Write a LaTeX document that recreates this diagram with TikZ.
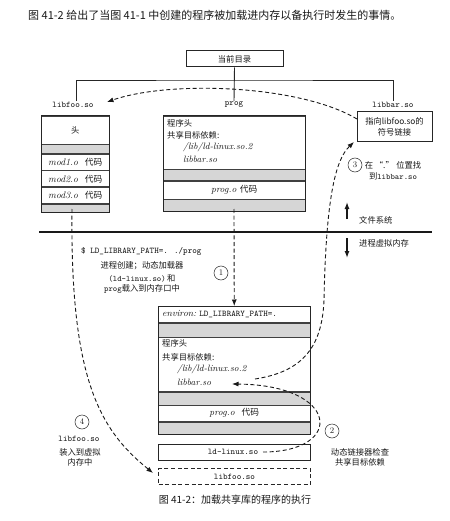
\documentclass[tikz,border=0pt]{standalone}
\usepackage{fontspec}
\newfontfamily\cjk{Noto Sans CJK SC}
\usetikzlibrary{arrows.meta}
\begin{document}
\begin{tikzpicture}[x=1pt,y=-1pt,
  every node/.style={inner sep=1pt, text=black!90},
  fs/.style={font=\fontsize{8.5}{10}\selectfont},
  cn/.style={font=\cjk\fontsize{8.3}{10}\selectfont},
  tt/.style={font=\ttfamily\fontsize{8.7}{10}\selectfont},
  itx/.style={font=\itshape\fontsize{9.2}{10}\selectfont},
  rowbox/.style 2 args={draw=black!75, line width=.5pt, inner sep=0, anchor=north west,
    minimum width=#1, minimum height=#2, font=\fontsize{8.7}{10}\selectfont},
  grey/.style={fill=black!16},
  outer/.style={draw=black!85, line width=1pt},
  dashar/.style={draw=black!90, line width=.9pt, dash pattern=on 4pt off 2.6pt,
    -{Latex[length=6.5pt,width=5pt]}},
  num/.style={circle, draw=black!85, line width=.5pt, minimum size=14pt, inner sep=0,
    font=\fontsize{8.5}{10}\selectfont},
  tree/.style={draw=black!85, line width=.9pt},
  fsarrow/.style={draw=black!90, line width=1.3pt, -{Latex[length=7pt,width=5pt]}}
]
\useasboundingbox (0,0) rectangle (449,521);
\fill[white] (0,0) rectangle (449,521);

% top caption
\node[anchor=west, font=\cjk\fontsize{11}{13}\selectfont] (topcap) at (27,15)
  {图 41-2 给出了当图 41-1 中创建的程序被加载进内存以备执行时发生的事情。};

% directory tree
\node[draw=black!85, line width=1pt, minimum width=97pt, minimum height=16pt, inner sep=0,
  cn] (cur) at (234.5,59) {当前目录};
\node[tt] (foolab) at (73,105) {libfoo.so};
\node[tt] (proglab) at (234,105) {prog};
\node[tt] (barlab) at (393,105) {libbar.so};
\coordinate (hb) at (234,80);
\draw[tree] (cur.south) -- (proglab.north);
\draw[tree] (foolab.north -| 76,0) |- (hb) -| (barlab.north);

% libfoo.so box
\node[rowbox={68}{28}, cn] (fh) at (41,116) {头};
\node[rowbox={68}{9}, grey] (fg1) at (fh.south west) {};
\node[rowbox={68}{16}, font=\fontsize{9.6}{10}\selectfont] (fm1) at (fg1.south west) {\itshape mod1.o\ \ {\cjk\fontsize{8.7}{10}\selectfont 代码}};
\node[rowbox={68}{16}, font=\fontsize{9.6}{10}\selectfont] (fm2) at (fm1.south west) {\itshape mod2.o\ \ {\cjk\fontsize{8.7}{10}\selectfont 代码}};
\node[rowbox={68}{16}, font=\fontsize{9.6}{10}\selectfont] (fm3) at (fm2.south west) {\itshape mod3.o\ \ {\cjk\fontsize{8.7}{10}\selectfont 代码}};
\node[rowbox={68}{8}, grey] (fg2) at (fm3.south west) {};
\draw[outer] (fh.north west) rectangle (fg2.south east);

% prog box
\node[rowbox={142}{53}] (ph) at (163,116) {};
\node[rowbox={142}{11}, grey] (pg1) at (ph.south west) {};
\node[rowbox={142}{18}, font=\fontsize{9.4}{10}\selectfont] (pc) at (pg1.south west) {\itshape prog.o {\cjk\fontsize{8.7}{10}\selectfont 代码}};
\node[rowbox={142}{11}, grey] (pg2) at (pc.south west) {};
\draw[outer] (ph.north west) rectangle (pg2.south east);
\node[anchor=west, cn] (pt1) at (166,123) {程序头};
\node[anchor=west, cn] (pt2) at (166,135) {共享目标依赖:};
\node[anchor=west, itx] (pt3) at (182,147) {/lib/ld-linux.so.2};
\node[anchor=west, itx] (pt4) at (182,159) {libbar.so};

% libbar.so box
\node[draw=black!85, line width=1pt, minimum width=75pt, minimum height=30pt, inner sep=0,
  align=center, font=\cjk\fontsize{8.3}{11}\selectfont] (bar) at (394.5,127)
  {指向libfoo.so的\\符号链接};

% circle 3 and label
\node[num] (c3) at (355,165) {3};
\node[align=center, font=\cjk\fontsize{8.3}{11}\selectfont] (t3) at (393,170.5)
  {在 “.” 位置找\\到{\ttfamily libbar.so}};

% file system line and arrows
\coordinate (hl1) at (39,232);
\coordinate (hl2) at (432,232);
\draw[draw=black!90, line width=1.5pt] (hl1) -- (hl2);
\coordinate (ua1) at (347,219);
\coordinate (ua2) at (347,202);
\draw[fsarrow] (ua1) -- (ua2);
\coordinate (da1) at (347,238);
\coordinate (da2) at (347,258);
\draw[fsarrow] (da1) -- (da2);
\node[anchor=west, cn] (tfs) at (358,220) {文件系统};
\node[anchor=west, cn] (tvm) at (358,243) {进程虚拟内存};

% command text
\node[anchor=west, tt] (cmd) at (80,251) {\$ LD\_LIBRARY\_PATH=. ./prog};
\node[cn] (l1a) at (142,266) {进程创建；动态加载器};
\node[cn] (l1b) at (142,278) {{\ttfamily (ld-linux.so)}\,和};
\node[cn] (l1c) at (142,289) {{\ttfamily prog}载入到内存口中};
\node[num] (c1) at (221,273) {1};

% lower process box
\node[rowbox={152}{16}] (env) at (158,306) {};
\node[rowbox={152}{14}, grey] (eg) at (env.south west) {};
\node[rowbox={152}{54}] (lh) at (eg.south west) {};
\node[rowbox={152}{13}, grey] (lg1) at (lh.south west) {};
\node[rowbox={152}{16}, font=\fontsize{9.4}{10}\selectfont] (lc) at (lg1.south west) {\itshape prog.o\ \ {\cjk\fontsize{8.7}{10}\selectfont 代码}};
\node[rowbox={152}{12}, grey] (lg2) at (lc.south west) {};
\draw[outer] (env.north west) rectangle (lg2.south east);
\node[anchor=west, font=\fontsize{8.7}{10}\selectfont] (envt) at (161,314)
  {{\itshape\fontsize{9.4}{10}\selectfont environ:}\ {\ttfamily LD\_LIBRARY\_PATH=.}};
\node[anchor=west, cn] (lt1) at (161,343) {程序头};
\node[anchor=west, cn] (lt2) at (161,357) {共享目标依赖:};
\node[anchor=west, itx] (lt3) at (176,369) {/lib/ld-linux.so.2};
\node[anchor=west, itx] (lt4) at (176,382) {libbar.so};

% ld-linux.so box and libfoo.so dashed box
\node[draw=black!85, line width=1pt, minimum width=152pt, minimum height=16pt, inner sep=0,
  anchor=north west] (ld) at (158,444) {};
\node[tt] (ldt) at (233,452) {ld-linux.so};
\node[draw=black!85, line width=1pt, dash pattern=on 4pt off 2.6pt, minimum width=152pt,
  minimum height=16pt, inner sep=0, anchor=north west, tt] (lf) at (158,468) {libfoo.so};

% circle 2 and label
\node[num] (c2) at (332,431) {2};
\node[cn] (t2a) at (360,452) {动态链接器检查};
\node[cn] (t2b) at (360,462) {共享目标依赖};

% circle 4 and label
\node[num] (c4) at (82,422) {4};
\node[tt] (t4a) at (79,439) {libfoo.so};
\node[cn] (t4b) at (80,452) {装入到虚拟};
\node[cn] (t4c) at (80,462) {内存中};

% bottom caption
\node[font=\cjk\fontsize{10}{12}\selectfont] (cap) at (235,500) {图 41-2：加载共享库的程序的执行};

% ---- dashed connectors ----
\coordinate (barw) at (357,119);
\coordinate (fooe) at (107,102);
\draw[dashar] (barw) .. controls (300,85) and (170,80) .. (fooe);

\coordinate (pbot) at (234,209);
\draw[dashar] (pbot) -- (env.north);

\coordinate (fbot) at (72,209);
\coordinate (lfw) at (153,473);
\draw[dashar] (fbot) .. controls (70,380) and (100,430) .. (lfw);

\coordinate (ldend) at (263,452);
\coordinate (lbend) at (232,384);
\draw[dashar] (ldend) .. controls (345,452) and (340,385) .. (lbend);

\coordinate (lbstart) at (255,379);
\coordinate (mid3) at (324,300);
\coordinate (barsw) at (354,142);
\draw[dashar] (lbstart) .. controls (300,372) and (322,350) .. (mid3)
  .. controls (326,200) and (335,160) .. (barsw);
\end{tikzpicture}
\end{document}
